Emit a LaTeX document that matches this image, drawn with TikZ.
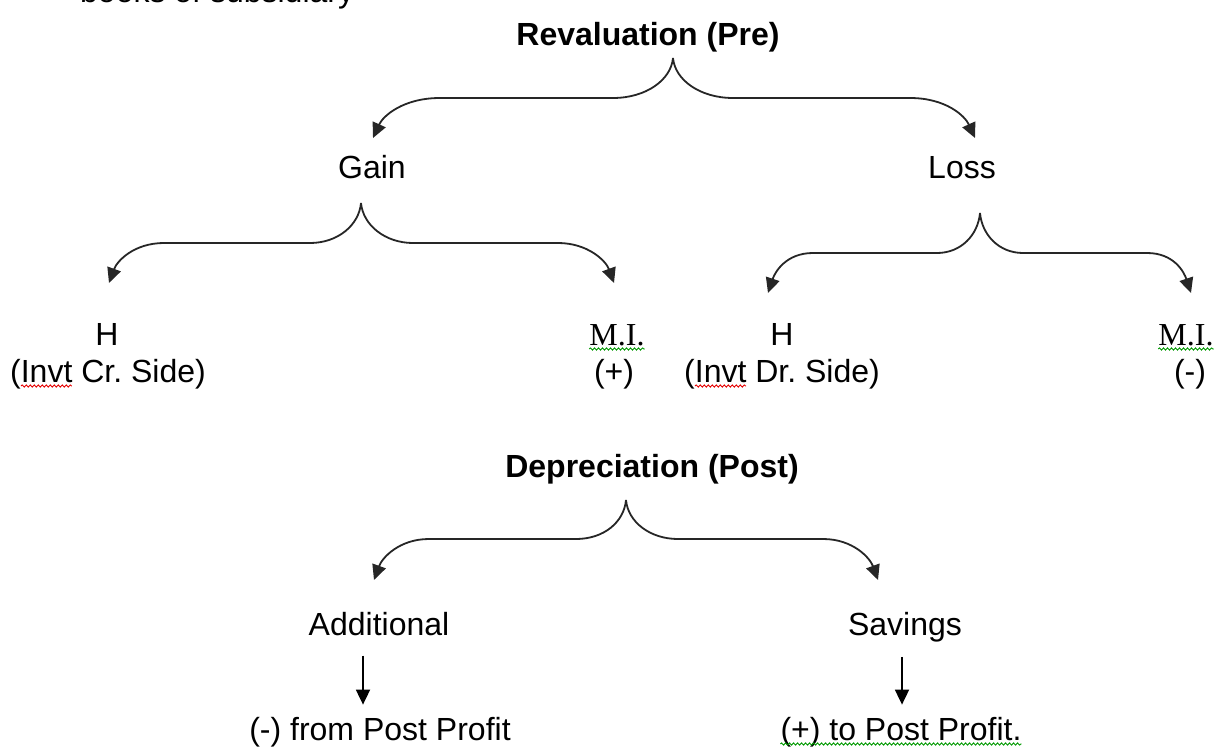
\documentclass[tikz,border=0pt]{standalone}
\usepackage{fontspec}
\setmainfont{Liberation Sans}
\newfontfamily\abbrfont{Liberation Serif}
\usetikzlibrary{arrows.meta,calc,decorations.pathmorphing}

\begin{document}
\frenchspacing
\begin{tikzpicture}[x=1pt,y=-1pt,
  lbl/.style={inner sep=0pt, anchor=base, font=\fontsize{32}{38}\selectfont},
  abbr/.style={lbl, font=\fontsize{32}{38}\selectfont\abbrfont},
  head/.style={lbl, font=\fontsize{32}{38}\selectfont\bfseries},
  fork/.style={line width=1.8pt, draw=black!85, -{Triangle[width=14pt,length=15pt]}},
  down/.style={line width=1.8pt, -{Triangle[width=14pt,length=15pt]}},
  redsq/.style={draw=red!90!black, line width=0.9pt, decorate,
    decoration={snake, segment length=4pt, amplitude=1.1pt}},
  greensq/.style={redsq, draw=green!60!black}]

\useasboundingbox (0,0) rectangle (1215,749);
\clip (0,0) rectangle (1215,749);

% running text above the chart
\node[lbl, anchor=base west] (books) at (80,3) {books of subsidiary};

% ---------------- revaluation ----------------
\node[head] (rev) at (648,46) {Revaluation (Pre)};
\node[lbl] (gain) at (372,178) {Gain};
\node[lbl] (loss) at (962,178) {Loss};

\coordinate (revc) at (673,58);
\coordinate (revL) at (373,138);
\coordinate (revR) at (975,138);
\draw[fork] (revc) .. controls +(-2,22) and +(33,0) .. (613,98) -- (440,98)
  .. controls +(-37,0) and +(10,-22) .. (revL);
\draw[fork] (revc) .. controls +(2,22) and +(-33,0) .. (733,98) -- (910,98)
  .. controls +(36,0) and +(-10,-22) .. (revR);

% gain split
\coordinate (gainc) at (361,203);
\coordinate (gainL) at (109,283);
\coordinate (gainR) at (614,283);
\draw[fork] (gainc) .. controls +(-2,22) and +(28,0) .. (310,243) -- (164,243)
  .. controls +(-30,0) and +(8,-22) .. (gainL);
\draw[fork] (gainc) .. controls +(2,22) and +(-28,0) .. (413,243) -- (558,243)
  .. controls +(30,0) and +(-8,-22) .. (gainR);

% loss split
\coordinate (lossc) at (980,213);
\coordinate (lossL) at (768,293);
\coordinate (lossR) at (1191,293);
\draw[fork] (lossc) .. controls +(-2,22) and +(24,0) .. (937,253) -- (813,253)
  .. controls +(-27,0) and +(7,-21) .. (lossL);
\draw[fork] (lossc) .. controls +(2,22) and +(-24,0) .. (1023,253) -- (1147,253)
  .. controls +(27,0) and +(-7,-21) .. (lossR);

% holding company / minority interest
\node[lbl] (hcr) at (107,345) {H};
\node[lbl] (hcrnote) at (108,382) {(Invt Cr. Side)};
\node[abbr] (mip) at (617,345) {M.I.};
\node[lbl] (mipnote) at (614,382) {(+)};
\node[lbl] (hdr) at (782,345) {H};
\node[lbl] (hdrnote) at (782,382) {(Invt Dr. Side)};
\node[abbr] (mim) at (1186,345) {M.I.};
\node[lbl] (mimnote) at (1190,382) {(-)};

% spelling marks
\draw[redsq] ($(hcrnote.base west)+(11,4)$) -- ++(51,0);
\draw[redsq] ($(hdrnote.base west)+(11,4)$) -- ++(51,0);
\draw[greensq] ($(mip.base west)+(0,4)$) -- ($(mip.base east)+(0,4)$);
\draw[greensq] ($(mim.base west)+(0,4)$) -- ($(mim.base east)+(0,4)$);

% ---------------- depreciation ----------------
\node[head] (dep) at (652,477) {Depreciation (Post)};
\node[lbl] (add) at (379,635) {Additional};
\node[lbl] (sav) at (905,635) {Savings};

\coordinate (depc) at (626,500);
\coordinate (depL) at (374,580);
\coordinate (depR) at (878,580);
\draw[fork] (depc) .. controls +(-2,22) and +(28,0) .. (576,539) -- (429,539)
  .. controls +(-30,0) and +(8,-22) .. (depL);
\draw[fork] (depc) .. controls +(2,22) and +(-28,0) .. (678,539) -- (823,539)
  .. controls +(30,0) and +(-8,-22) .. (depR);

\node[lbl] (addres) at (380,740) {(-) from Post Profit};
\node[lbl] (savres) at (901,740) {(+) to Post Profit.};

\draw[down] ([xshift=-16pt,yshift=-20pt]add.south) -- ([xshift=-17pt,yshift=12pt]addres.north);
\draw[down] ([xshift=-3pt,yshift=-15pt]sav.south) -- ([xshift=1pt,yshift=12pt]savres.north);

\draw[greensq] ($(savres.base west)+(0,4)$) -- ($(savres.base east)+(0,4)$);
\end{tikzpicture}
\end{document}
